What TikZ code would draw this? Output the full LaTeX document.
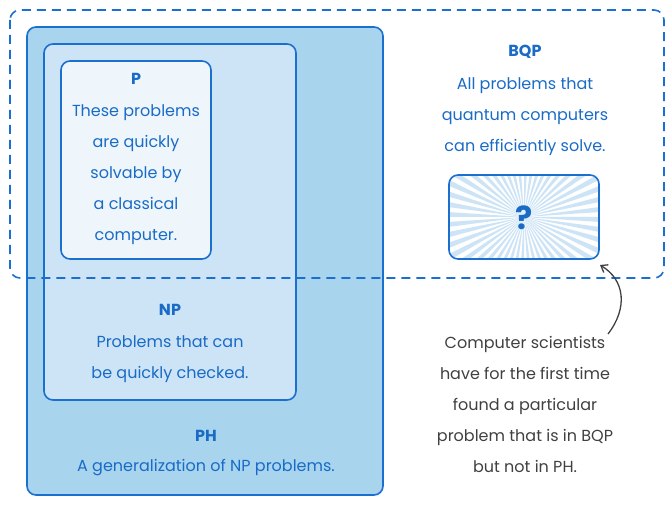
\documentclass[tikz,border=0pt]{standalone}
\usepackage{fontspec}
\setmainfont{Poppins}
\usetikzlibrary{arrows.meta}
\definecolor{bblue}{HTML}{1A6FCF}
\definecolor{tblue}{HTML}{1A6BC6}
\definecolor{phfill}{HTML}{A8D4EE}
\definecolor{npfill}{HTML}{CDE4F6}
\definecolor{pfill}{HTML}{EEF6FC}
\definecolor{rayc}{HTML}{CDE4F6}
\definecolor{grayt}{HTML}{404040}
\tikzset{
  box/.style={draw=bblue, line width=1.6pt, rounded corners=9pt},
  lbl/.style={text=tblue, font=\fontsize{16}{19}\selectfont, align=center, inner sep=0pt},
  ttl/.style={text=tblue, font=\fontsize{16}{19}\selectfont\bfseries, inner sep=0pt},
  qmark/.style={text=tblue, font=\fontsize{32}{34}\selectfont\bfseries, inner sep=0pt},
}
\begin{document}
\begin{tikzpicture}[x=1pt,y=-1pt]
\useasboundingbox (0,0) rectangle (672,505);
% boxes
\draw[box, fill=phfill] (27,27) rectangle (383,495);
\draw[box, fill=npfill] (44,44) rectangle (296,400);
\draw[box, fill=pfill] (61,61) rectangle (211,259);
% question box
\begin{scope}
  \clip[rounded corners=9pt] (449,175) rectangle (599,259);
  \fill[white] (449,175) rectangle (599,259);
  \foreach \i in {0,...,47} {
    \fill[rayc] (524,217) -- ++({\i*7.5}:130) -- ++({\i*7.5+90}:8.5) -- cycle;
  }
\end{scope}
\draw[box] (449,175) rectangle (599,259);
\node[qmark] (q) at (524,218) {?};
% BQP dashed
\draw[draw=bblue, line width=1.6pt, rounded corners=10pt, dash pattern=on 9pt off 6pt] (10,10) rectangle (664,278);
% texts
\node[ttl] (pt) at (136,79) {P};
\node[lbl] (pd) at (136,175) {These problems\\[12pt]are quickly\\[12pt]solvable by\\[12pt]a classical\\[12pt]computer.};
\node[ttl] (npt) at (170,310) {NP};
\node[lbl] (npd) at (170,359) {Problems that can\\[12pt]be quickly checked.};
\node[ttl] (pht) at (206,436) {PH};
\node[lbl] (phd) at (206,468) {A generalization of NP problems.};
\node[ttl] (bqpt) at (525,52) {BQP};
\node[lbl] (bqpd) at (525,117) {All problems that\\[12pt]quantum computers\\[12pt]can efficiently solve.};
\node[lbl, text=grayt] (note) at (525,404) {Computer scientists\\[12pt]have for the first time\\[12pt]found a particular\\[12pt]problem that is in BQP\\[12pt]but not in PH.};
\coordinate (a1) at (608,334);
\coordinate (a2) at (600,265);
\draw[grayt, line width=1.3pt, -{Straight Barb[length=6pt,width=9pt]}] (a1) .. controls (628,308) and (625,280) .. (a2);
\end{tikzpicture}
\end{document}
